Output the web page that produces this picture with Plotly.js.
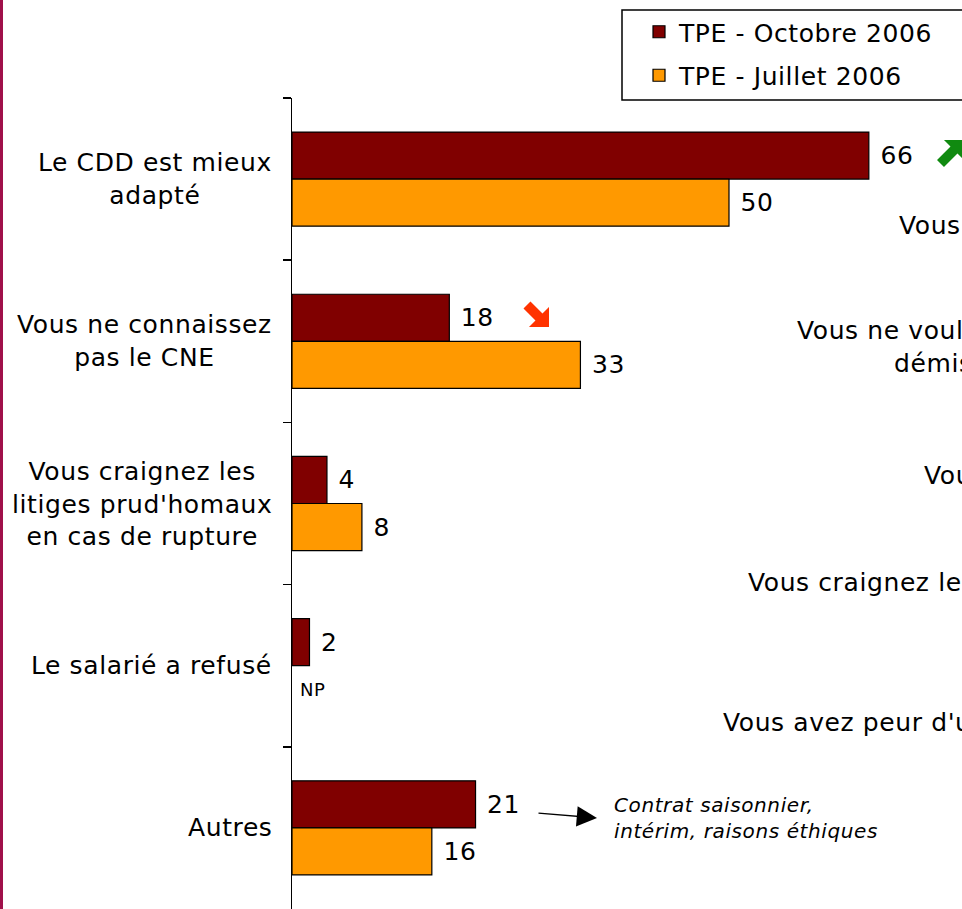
<!DOCTYPE html>
<html>
<head>
<meta charset="utf-8">
<script src="https://cdn.plot.ly/plotly-3.0.1.min.js"></script>
<style>
  html, body { margin: 0; padding: 0; background: #ffffff; }
  #chart { width: 962px; height: 909px; }
  text { letter-spacing: 0.6px; }
</style>
</head>
<body>
<div id="chart"></div>
<script>
// ---- data ----
const categories = [
  "Le CDD est mieux adapté",
  "Vous ne connaissez pas le CNE",
  "Vous craignez les litiges prud'homaux en cas de rupture",
  "Le salarié a refusé",
  "Autres"
];
const categoryLabels = [
  "Le CDD est mieux<br>adapté",
  "Vous ne connaissez<br>pas le CNE",
  "Vous craignez les<br>litiges prud'homaux<br>en cas de rupture",
  "Le salarié a refusé",
  "Autres"
];
const seriesNames = ["TPE - Octobre 2006", "TPE - Juillet 2006"];
const octobre = [66, 18, 4, 2, 21];
const juillet = [50, 33, 8, null, 16];
const missingLabel = "NP";
const autresNote = "<i>Contrat saisonnier,<br>intérim, raisons éthiques</i>";
// cut-off labels of the neighbouring chart (clipped at the right edge)
const sideLabels = [
  {text: "Vous", px: 897, py: 225},
  {text: "Vous ne voulez", px: 795, py: 330},
  {text: "démission", px: 892, py: 363},
  {text: "Vous", px: 922, py: 475},
  {text: "Vous craignez les", px: 746, py: 582},
  {text: "Vous avez peur d'un", px: 721, py: 722}
];

// ---- geometry helpers (decorations only) ----
const W = 962, H = 909, L = 292, T = 98, PW = 670, PH = 811;
const px2x = p => (p - L) / PW;
const py2y = p => 1 - (p - T) / PH;
const FONT = "DejaVu Sans, Verdana, sans-serif";

function polyPath(pts) {
  return "M" + pts.map(p => px2x(p[0]).toFixed(5) + "," + py2y(p[1]).toFixed(5)).join("L") + "Z";
}

const traces = [
  {
    type: "bar", orientation: "h", name: seriesNames[0],
    y: categories, x: octobre,
    marker: {color: "#800000", line: {color: "#000000", width: 1.2}},
    text: octobre.map(v => v == null ? "" : "\u00A0" + v),
    textposition: "outside", cliponaxis: false, constraintext: "none",
    textfont: {family: FONT, size: 25, color: "#000000"},
    legendgroup: "a", hoverinfo: "skip"
  },
  {
    type: "bar", orientation: "h", name: seriesNames[1],
    y: categories, x: juillet,
    marker: {color: "#FF9900", line: {color: "#000000", width: 1.2}},
    text: juillet.map(v => v == null ? "" : "\u00A0" + v),
    textposition: "outside", cliponaxis: false, constraintext: "none",
    textfont: {family: FONT, size: 25, color: "#000000"},
    legendgroup: "b", hoverinfo: "skip"
  }
];

const annotations = [];
categories.forEach((c, i) => {
  annotations.push({
    xref: "paper", yref: "y", x: px2x(274), y: c,
    xanchor: "right", yanchor: "middle", align: "center",
    text: categoryLabels[i], showarrow: false,
    font: {family: FONT, size: 25, color: "#000000"}
  });
});
// NP marker for the missing July value
annotations.push({
  xref: "x", yref: "y", x: 0, y: categories[3],
  xanchor: "left", yanchor: "middle", xshift: 6, yshift: -24,
  text: missingLabel, showarrow: false,
  font: {family: FONT, size: 18, color: "#000000"}
});
// note for "Autres"
annotations.push({
  xref: "paper", yref: "paper", x: px2x(612), y: py2y(818),
  xanchor: "left", yanchor: "middle", align: "left",
  text: autresNote, showarrow: false,
  font: {family: FONT, size: 20, color: "#000000"}
});
annotations.push({
  xref: "paper", yref: "paper", x: px2x(597), y: py2y(818),
  axref: "pixel", ayref: "pixel", ax: -60, ay: -5,
  text: "", showarrow: true, arrowhead: 2, arrowsize: 2.7, arrowwidth: 1.5,
  arrowcolor: "#000000", standoff: 0, startstandoff: 0
});
sideLabels.forEach(s => {
  annotations.push({
    xref: "paper", yref: "paper", x: px2x(s.px), y: py2y(s.py),
    xanchor: "left", yanchor: "middle", text: s.text, showarrow: false,
    font: {family: FONT, size: 25, color: "#000000"}
  });
});

const shapes = [
  // left slide border
  {type: "line", xref: "paper", yref: "paper", x0: px2x(1.5), x1: px2x(1.5), y0: py2y(0), y1: py2y(H),
   line: {color: "#A0104A", width: 3}},
  // legend frame (extends beyond right edge)
  {type: "rect", xref: "paper", yref: "paper", x0: px2x(622), x1: px2x(1010), y0: py2y(100), y1: py2y(10),
   line: {color: "#000000", width: 1.5}, fillcolor: "rgba(0,0,0,0)"},
  // red trend arrow (down-right)
  {type: "path", xref: "paper", yref: "paper", line: {width: 0}, fillcolor: "#FF3300",
   path: polyPath([[549,327],[529,327],[535.5,320.5],[523.5,308.5],[530.5,301.5],[542.5,313.5],[549,307]])},
  // green trend arrow (up-right)
  {type: "path", xref: "paper", yref: "paper", line: {width: 0}, fillcolor: "#108A10",
   path: polyPath([[964,140],[944,140],[950.5,146.5],[937,160],[944,167],[957.5,153.5],[964,160]])}
];

const layout = {
  width: W, height: H,
  margin: {l: L, r: W - L - PW, t: T, b: H - T - PH, pad: 0},
  paper_bgcolor: "#ffffff", plot_bgcolor: "#ffffff",
  font: {family: FONT, size: 25, color: "#000000"},
  barmode: "group", bargap: 0.42, bargroupgap: 0,
  showlegend: true,
  legend: {
    x: px2x(639), y: py2y(9), xanchor: "left", yanchor: "top",
    font: {family: FONT, size: 25, color: "#000000"},
    bgcolor: "rgba(0,0,0,0)", borderwidth: 0,
    traceorder: "grouped", tracegroupgap: 8
  },
  xaxis: {range: [0, PW / 8.74], visible: false, fixedrange: true},
  yaxis: {
    type: "category", categoryarray: categories, categoryorder: "array",
    autorange: "reversed", showticklabels: false,
    tickson: "boundaries", ticks: "outside", ticklen: 8, tickwidth: 1.5, tickcolor: "#000000",
    showline: true, linecolor: "#000000", linewidth: 1.5,
    showgrid: false, zeroline: false, fixedrange: true
  },
  annotations: annotations,
  shapes: shapes,
  hovermode: false
};

Plotly.newPlot("chart", traces, layout, {displayModeBar: false, staticPlot: true});
</script>
</body>
</html>
